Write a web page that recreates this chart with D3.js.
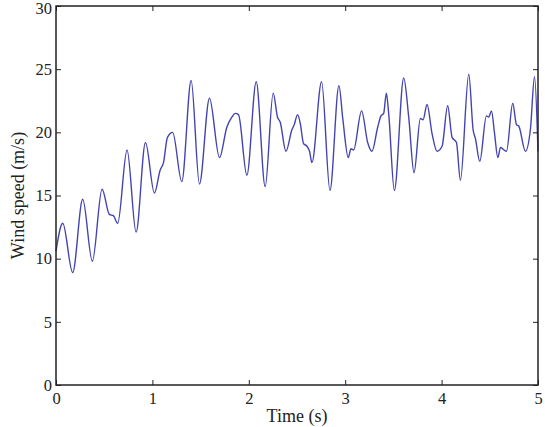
<!DOCTYPE html>
<html>
<head>
<meta charset="utf-8">
<script src="https://cdn.jsdelivr.net/npm/d3@7"></script>
<style>
  html, body { margin: 0; padding: 0; background: #fff; }
  #chart { width: 545px; height: 427px; }
</style>
</head>
<body>
<div id="chart"></div>
<script>
// Wind speed time series (MATLAB style plot)
// Points: peaks, troughs and shoulders of the trace
const timeValues = [
  0.0, 0.07, 0.173, 0.277, 0.377, 0.478, 0.554, 0.595, 0.64, 0.737, 0.831, 0.928,
  1.021, 1.08, 1.115, 1.156, 1.21, 1.305, 1.402, 1.488, 1.592, 1.696, 1.772, 1.824,
  1.859, 1.893, 1.98, 2.077, 2.17, 2.253, 2.298, 2.326, 2.385, 2.447, 2.471, 2.506,
  2.534, 2.568, 2.603, 2.63, 2.655, 2.755, 2.842, 2.935, 2.976, 3.032, 3.06, 3.087,
  3.17, 3.233, 3.278, 3.337, 3.371, 3.399, 3.427, 3.451, 3.51, 3.607, 3.659, 3.714,
  3.78, 3.808, 3.849, 3.901, 3.953, 4.005, 4.063, 4.109, 4.154, 4.195, 4.282, 4.327,
  4.351, 4.396, 4.465, 4.489, 4.517, 4.548, 4.583, 4.611, 4.673, 4.738, 4.777, 4.8,
  4.87, 4.922, 4.964, 5.0
];
const speedValues = [
  10.6, 12.8, 8.9, 14.7, 9.8, 15.5, 13.5, 13.4, 12.8, 18.6, 12.1, 19.2,
  15.2, 17.0, 17.6, 19.6, 20.0, 16.1, 24.1, 15.9, 22.7, 18.0, 20.4, 21.2,
  21.5, 21.4, 16.6, 24.0, 15.7, 23.1, 21.2, 20.8, 18.5, 20.2, 20.6, 21.4,
  20.7, 19.1, 18.9, 18.5, 17.6, 24.0, 15.4, 23.7, 21.0, 18.0, 18.7, 18.6,
  21.7, 19.2, 18.5, 20.4, 21.3, 21.5, 23.1, 21.5, 15.4, 24.3, 21.2, 16.8,
  21.1, 21.0, 22.2, 19.9, 18.5, 18.9, 22.1, 19.6, 19.2, 16.2, 24.6, 20.2,
  19.5, 17.7, 21.3, 21.2, 21.7, 20.0, 18.0, 18.8, 18.5, 22.3, 20.6, 20.5,
  18.5, 20.3, 24.4, 18.5
];
const xTicks = [0, 1, 2, 3, 4, 5];
const yTicks = [0, 5, 10, 15, 20, 25, 30];
const xLabel = "Time (s)";
const yLabel = "Wind speed (m/s)";

(function() {
  "use strict";

  const width = 545, height = 427;
  const margin = { left: 56, right: 7, top: 6, bottom: 42 }; // plot box 56..538, 6..385
  const font = "'Liberation Serif', 'Times New Roman', serif";
  const tickFont = "16.5px", titleFont = "18px";

  const data = timeValues.map((t, i) => ({ t: t, v: speedValues[i] }));

  const x = d3.scaleLinear().domain([0, 5]).range([margin.left, width - margin.right]);
  const y = d3.scaleLinear().domain([0, 30]).range([height - margin.bottom, margin.top]);

  const svg = d3.select("#chart").append("svg")
      .attr("width", width)
      .attr("height", height)
      .style("font-family", font);

  // the curve
  const line = d3.line()
      .x(d => x(d.t))
      .y(d => y(d.v))
      .curve(d3.curveMonotoneX);

  svg.append("path")
      .datum(data)
      .attr("fill", "none")
      .attr("stroke", "#4444b0")
      .attr("stroke-width", 1.4)
      .attr("stroke-linejoin", "round")
      .attr("d", line);

  // axes: ticks point inward, mirrored on top and right like MATLAB's box
  const tickLen = 5;
  const styleAxis = g => {
    g.select(".domain").remove();
    g.selectAll("line").attr("stroke", "#222").attr("stroke-width", 1);
    g.selectAll("text").attr("fill", "#222").style("font-size", tickFont).style("font-family", font);
  };

  svg.append("g")
      .attr("transform", `translate(0,${y(0)})`)
      .call(d3.axisBottom(x).tickValues(xTicks).tickSize(-tickLen).tickPadding(7).tickFormat(d3.format("d")))
      .call(styleAxis);

  svg.append("g")
      .attr("transform", `translate(0,${y(30)})`)
      .call(d3.axisTop(x).tickValues(xTicks).tickSize(-tickLen).tickFormat(""))
      .call(styleAxis);

  const yAxis = svg.append("g")
      .attr("transform", `translate(${x(0)},0)`)
      .call(d3.axisLeft(y).tickValues(yTicks).tickSize(-tickLen).tickPadding(4).tickFormat(d3.format("d")))
      .call(styleAxis);
  // keep the top label inside the page
  yAxis.selectAll("text").filter(d => d === 30).attr("dy", "0.45em");

  svg.append("g")
      .attr("transform", `translate(${x(5)},0)`)
      .call(d3.axisRight(y).tickValues(yTicks).tickSize(-tickLen).tickFormat(""))
      .call(styleAxis);

  // box
  svg.append("rect")
      .attr("x", x(0))
      .attr("y", y(30))
      .attr("width", x(5) - x(0))
      .attr("height", y(0) - y(30))
      .attr("fill", "none")
      .attr("stroke", "#222")
      .attr("stroke-width", 1.5);

  // axis titles
  svg.append("text")
      .attr("x", (x(0) + x(5)) / 2)
      .attr("y", 422)
      .attr("text-anchor", "middle")
      .attr("fill", "#222")
      .style("font-size", titleFont)
      .text(xLabel);

  svg.append("text")
      .attr("transform", `translate(24,${(y(0) + y(30)) / 2}) rotate(-90)`)
      .attr("text-anchor", "middle")
      .attr("fill", "#222")
      .style("font-size", titleFont)
      .text(yLabel);
})();
</script>
</body>
</html>
